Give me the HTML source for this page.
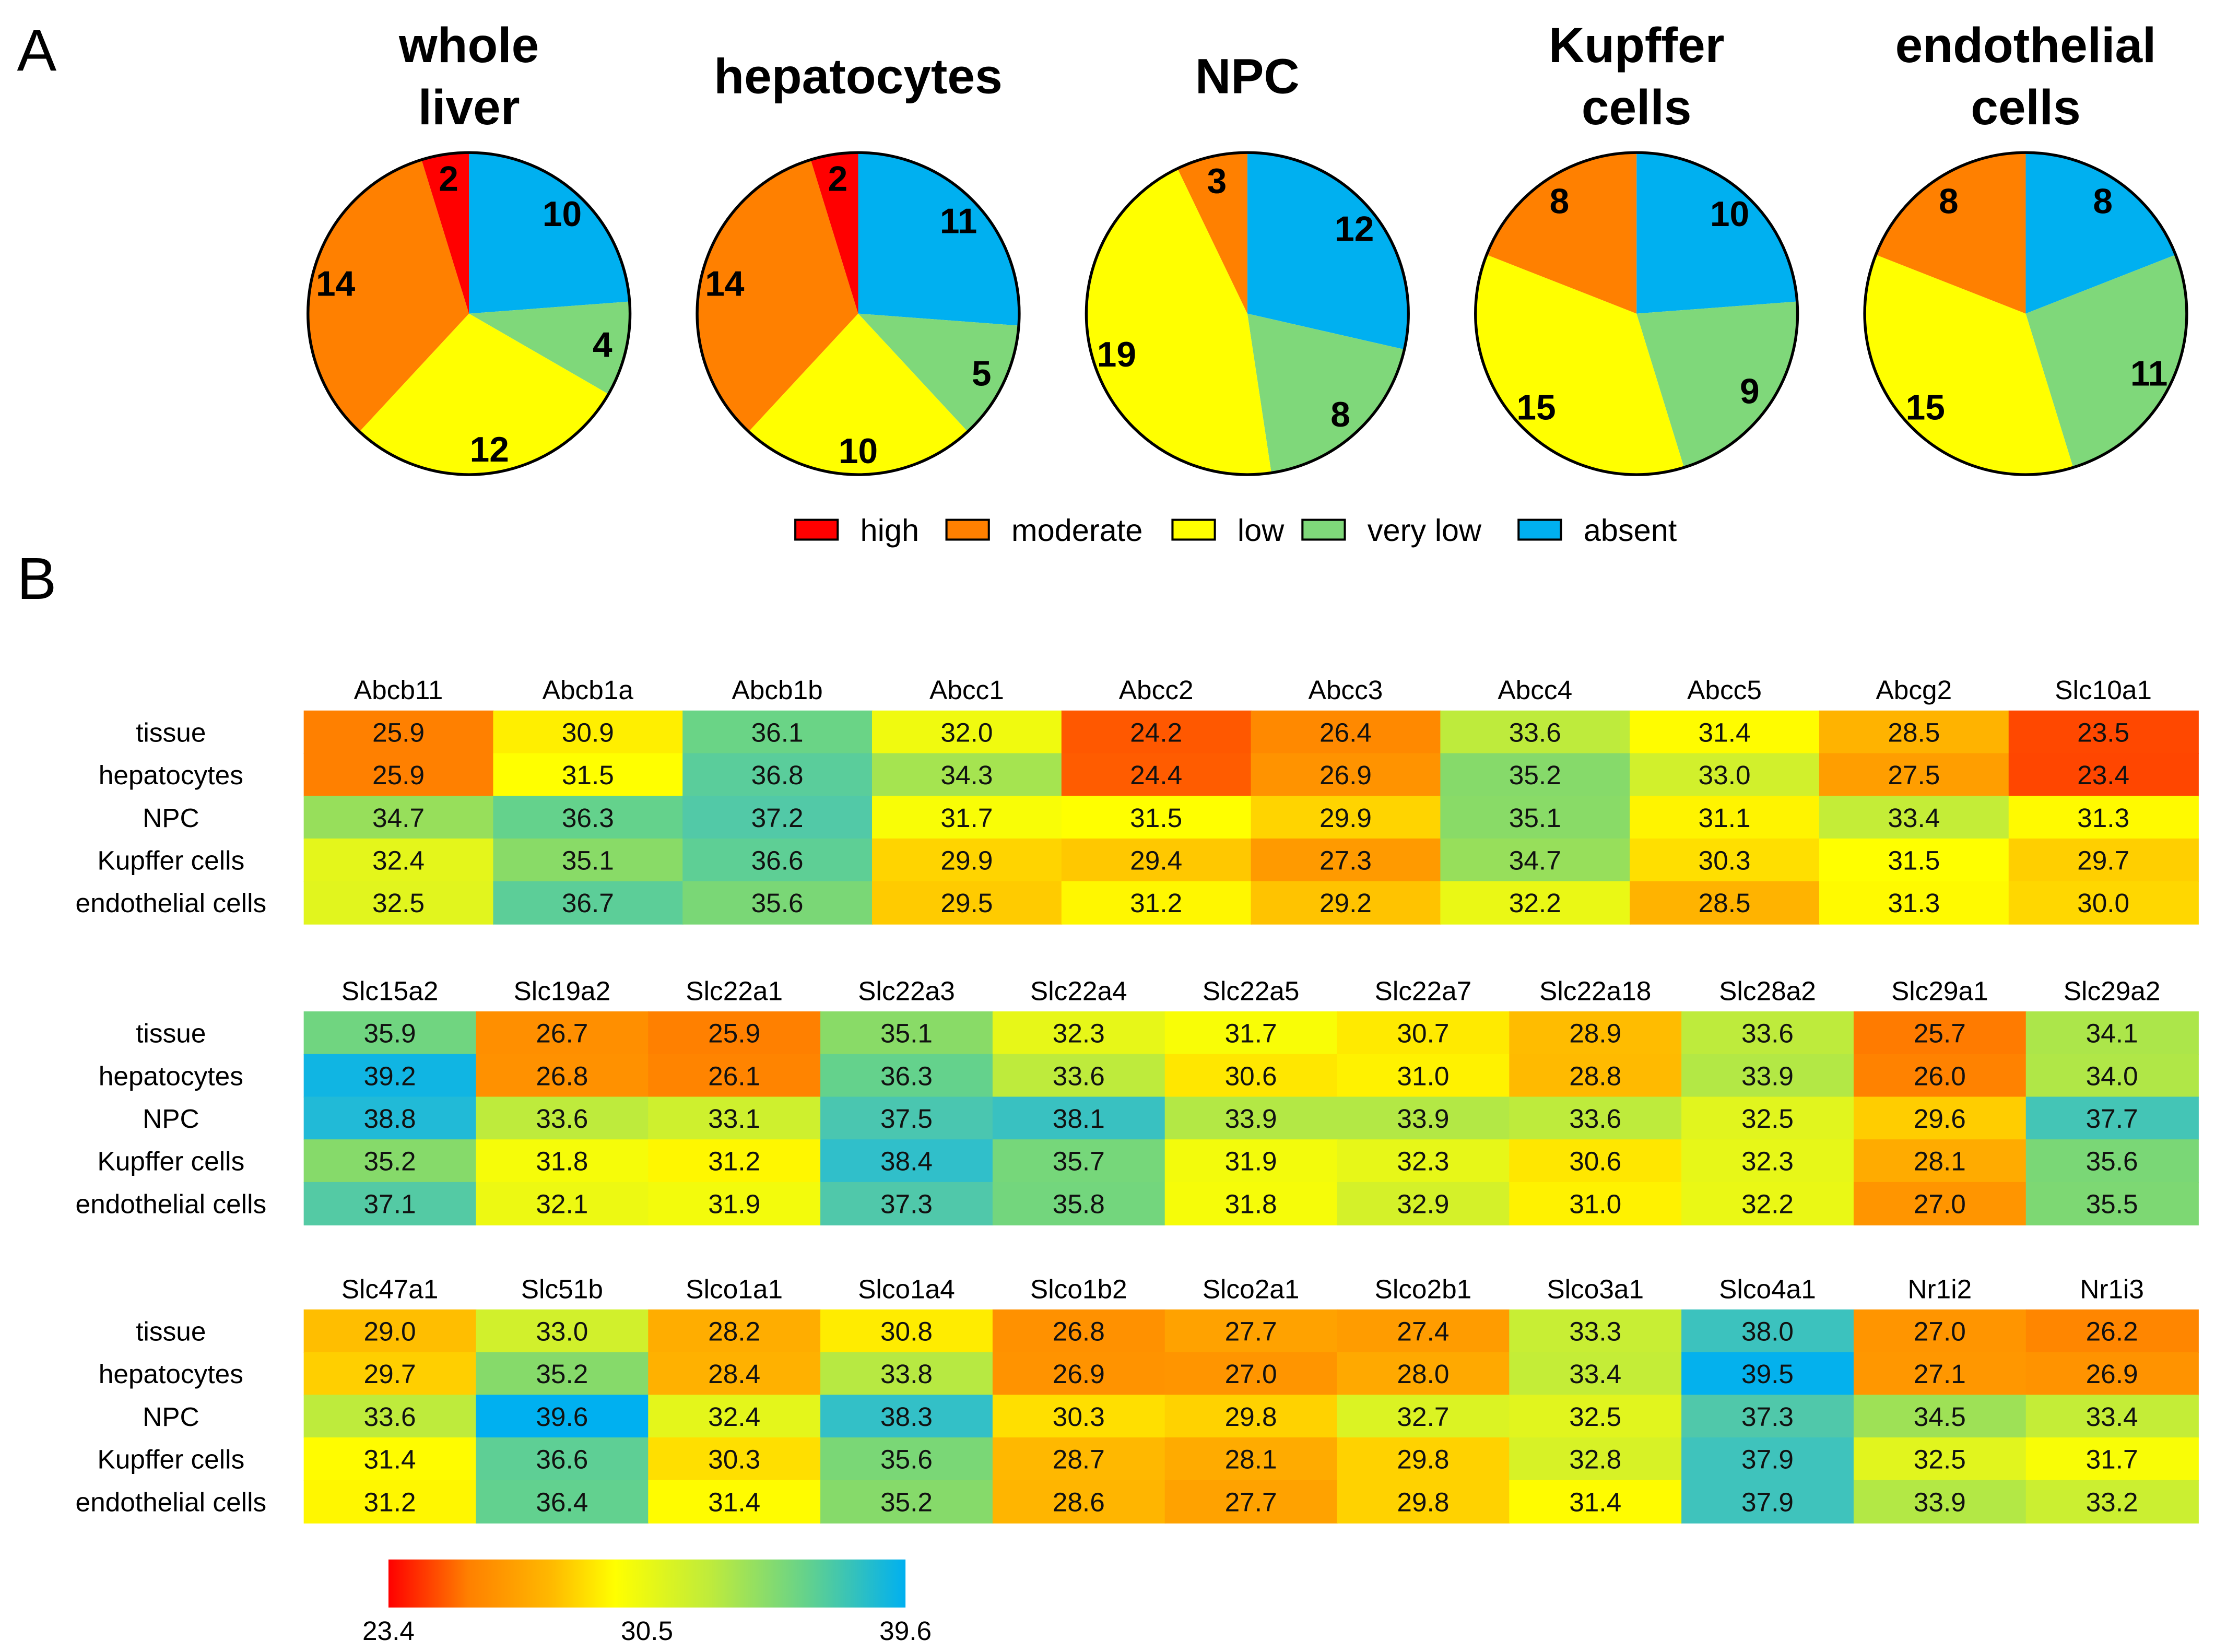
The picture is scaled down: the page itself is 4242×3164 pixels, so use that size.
<!DOCTYPE html>
<html><head><meta charset="utf-8">
<style>
html,body{margin:0;padding:0;background:#fff;}
svg{display:block;}
.t{font-family:"Liberation Sans",sans-serif;}
</style></head>
<body>
<svg id="fig" width="4242" height="3164" viewBox="0 0 1568 1169.5" preserveAspectRatio="none" xmlns="http://www.w3.org/2000/svg">
<text class="t" x="12" y="50" font-size="42">A</text>
<text class="t" x="12" y="424" font-size="42">B</text>
<g id="pies"></g>
<g id="legend"></g>
<g id="heat"></g>
<g id="cbar"></g>
</svg>
<script>
const NS="http://www.w3.org/2000/svg";
// ---- Pie data ----
const pieTitles=[["whole","liver"],["hepatocytes"],["NPC"],["Kupffer","cells"],["endothelial","cells"]];
const catNames=["absent","very low","low","moderate","high"];
const catColors=["#00b0f0","#7fd87a","#ffff00","#ff8000","#ff0000"];
const absentVals=[10,11,12,10,8];
const veryLowVals=[4,5,8,9,11];
const lowVals=[12,10,19,15,15];
const moderateVals=[14,14,3,8,8];
const highVals=[2,2,0,0,0];
// ---- Heatmap data ----
const rowLabels=["tissue","hepatocytes","NPC","Kupffer cells","endothelial cells"];
const genes1=["Abcb11","Abcb1a","Abcb1b","Abcc1","Abcc2","Abcc3","Abcc4","Abcc5","Abcg2","Slc10a1"];
const vals1=[[25.9,30.9,36.1,32.0,24.2,26.4,33.6,31.4,28.5,23.5],
[25.9,31.5,36.8,34.3,24.4,26.9,35.2,33.0,27.5,23.4],
[34.7,36.3,37.2,31.7,31.5,29.9,35.1,31.1,33.4,31.3],
[32.4,35.1,36.6,29.9,29.4,27.3,34.7,30.3,31.5,29.7],
[32.5,36.7,35.6,29.5,31.2,29.2,32.2,28.5,31.3,30.0]];
const genes2=["Slc15a2","Slc19a2","Slc22a1","Slc22a3","Slc22a4","Slc22a5","Slc22a7","Slc22a18","Slc28a2","Slc29a1","Slc29a2"];
const vals2=[[35.9,26.7,25.9,35.1,32.3,31.7,30.7,28.9,33.6,25.7,34.1],
[39.2,26.8,26.1,36.3,33.6,30.6,31.0,28.8,33.9,26.0,34.0],
[38.8,33.6,33.1,37.5,38.1,33.9,33.9,33.6,32.5,29.6,37.7],
[35.2,31.8,31.2,38.4,35.7,31.9,32.3,30.6,32.3,28.1,35.6],
[37.1,32.1,31.9,37.3,35.8,31.8,32.9,31.0,32.2,27.0,35.5]];
const genes3=["Slc47a1","Slc51b","Slco1a1","Slco1a4","Slco1b2","Slco2a1","Slco2b1","Slco3a1","Slco4a1","Nr1i2","Nr1i3"];
const vals3=[[29.0,33.0,28.2,30.8,26.8,27.7,27.4,33.3,38.0,27.0,26.2],
[29.7,35.2,28.4,33.8,26.9,27.0,28.0,33.4,39.5,27.1,26.9],
[33.6,39.6,32.4,38.3,30.3,29.8,32.7,32.5,37.3,34.5,33.4],
[31.4,36.6,30.3,35.6,28.7,28.1,29.8,32.8,37.9,32.5,31.7],
[31.2,36.4,31.4,35.2,28.6,27.7,29.8,31.4,37.9,33.9,33.2]];
const scaleTicks=[23.4,30.5,39.6];

function el(tag,attrs,parent){const e=document.createElementNS(NS,tag);for(const k in attrs)e.setAttribute(k,attrs[k]);parent.appendChild(e);return e;}

// ---- pies ----
const pg=document.getElementById('pies');
const cx0=332,dx=275.5,cy=222,R=114;
for(let p=0;p<5;p++){
  const cx=cx0+p*dx;
  const vals=[absentVals[p],veryLowVals[p],lowVals[p],moderateVals[p],highVals[p]];
  const tot=vals.reduce((a,b)=>a+b,0);
  const g=el('g',{},pg);
  
  
  let a=0;
  vals.forEach((v,i)=>{
    if(v<=0)return;
    const a1=a+v/tot*2*Math.PI;
    const x0=cx+R*Math.sin(a),y0=cy-R*Math.cos(a),x1=cx+R*Math.sin(a1),y1=cy-R*Math.cos(a1);
    const s=el('path',{d:`M${cx},${cy}L${x0},${y0}A${R},${R} 0 ${(a1-a)>Math.PI?1:0} 1 ${x1},${y1}Z`,fill:catColors[i]},g);
    
    
    const m=(a+a1)/2,d=R*0.85;
    const t=el('text',{class:'t',x:cx+d*Math.sin(m),y:cy-d*Math.cos(m)+9,'font-size':25,'font-weight':'bold','text-anchor':'middle'},g);
    t.textContent=v;
    
    
    a=a1;
  });
  el('circle',{cx:cx,cy:cy,r:R,fill:'none',stroke:'#000','stroke-width':2},g);
  const tl=pieTitles[p];
  tl.forEach((w,j)=>{
    const y=tl.length===1?66:44+j*44;
    const t=el('text',{class:'t',x:cx,y:y,'font-size':35,'font-weight':'bold','text-anchor':'middle'},g);
    t.textContent=w;
    
    
  });
}
// ---- legend ----
const lg=document.getElementById('legend');
const legOrder=[4,3,2,1,0];
const legSq=[563,670,830,922,1075];
legOrder.forEach((ci,k)=>{
  const g=el('g',{},lg);
  
  
  el('rect',{x:legSq[k],y:368,width:30,height:14,fill:catColors[ci],stroke:'#000','stroke-width':1.5},g);
  const t=el('text',{class:'t',x:legSq[k]+46,y:383,'font-size':22},g);
  t.textContent=catNames[ci];
});
// ---- heatmap ----
const stops=[[23.4,[255,70,0]],[24.3,[255,90,0]],[25.9,[255,128,0]],[27.5,[255,158,0]],[29.0,[255,190,0]],[30.0,[255,215,0]],[31.5,[255,255,0]],[32.5,[225,245,30]],[33.6,[190,235,60]],[35.0,[140,220,100]],[36.3,[100,210,140]],[37.3,[80,200,170]],[38.5,[45,190,205]],[39.6,[0,176,240]]];
const barStops=[[23.4,[255,0,0]],[25.9,[255,128,0]],[28.5,[255,185,0]],[30.5,[255,255,0]],[33.5,[190,235,60]],[36.5,[100,210,140]],[39.6,[0,176,240]]];
function col(v){
  if(v<=stops[0][0])return `rgb(${stops[0][1]})`;
  for(let i=1;i<stops.length;i++){if(v<=stops[i][0]){const [a,ca]=stops[i-1],[b,cb]=stops[i];const f=(v-a)/(b-a);return `rgb(${ca.map((c,k)=>Math.round(c+(cb[k]-c)*f)).join(',')})`;}}
  return `rgb(${stops[stops.length-1][1]})`;
}
const hg=document.getElementById('heat');
const blocks=[[genes1,vals1,503],[genes2,vals2,716],[genes3,vals3,927]];
const X0=215,X1=1556,RH=30.2;
blocks.forEach(([genes,vals,top],b)=>{
  const g=el('g',{},hg);
  
  
  const cw=(X1-X0)/genes.length;
  genes.forEach((gn,c)=>{
    const t=el('text',{class:'t',x:X0+cw*(c+0.5),y:top-8,'font-size':19,'text-anchor':'middle'},g);
    t.textContent=gn;
    
    
  });
  rowLabels.forEach((rl,r)=>{
    const t=el('text',{class:'t',x:121,y:top+RH*r+22,'font-size':19,'text-anchor':'middle'},g);
    t.textContent=rl;
    
    
    vals[r].forEach((v,c)=>{
      const x=X0+cw*c,y=top+RH*r;
      const rc=el('rect',{x:x,y:y,width:cw+0.5,height:RH+0.5,fill:col(v)},g);
      
      
      const tv=el('text',{class:'t',x:x+cw/2,y:y+22,'font-size':19,'text-anchor':'middle',fill:'#111'},g);
      tv.textContent=v.toFixed(1);
    });
  });
});
// ---- colorbar ----
const cg=document.getElementById('cbar');
const defs=el('defs',{},cg);
const lgd=el('linearGradient',{id:'cg',x1:0,x2:1,y1:0,y2:0},defs);
const cmin=scaleTicks[0],cmax=scaleTicks[scaleTicks.length-1];
barStops.forEach(([v,c])=>{el('stop',{offset:((v-cmin)/(cmax-cmin)),'stop-color':`rgb(${c})`},lgd);});
const cbx0=275,cbx1=641;
const cb=el('rect',{x:cbx0,y:1104,width:cbx1-cbx0,height:34,fill:'url(#cg)'},cg);


scaleTicks.forEach(v=>{
  const x=v===scaleTicks[1]?cbx0+(cbx1-cbx0)/2:cbx0+(v-cmin)/(cmax-cmin)*(cbx1-cbx0);
  const t=el('text',{class:'t',x:x,y:1161,'font-size':19,'text-anchor':'middle'},cg);
  t.textContent=v.toFixed(1);
  
  
});
</script>
</body></html>
